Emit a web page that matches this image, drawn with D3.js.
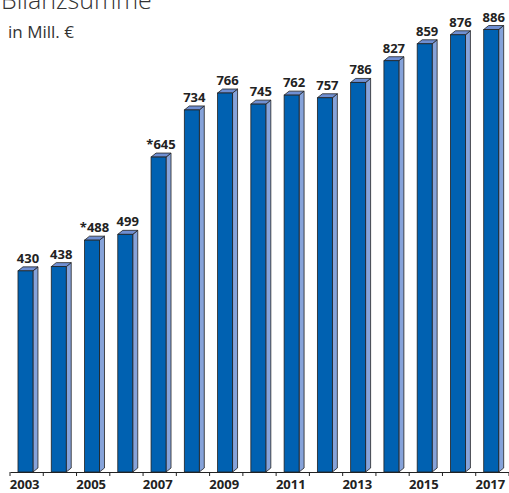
<!DOCTYPE html>
<html><head><meta charset="utf-8">
<script src="https://cdn.jsdelivr.net/npm/d3@7"></script>
<style>body{margin:0;background:#fff;} svg{display:block;}</style>
</head><body>
<script>
const years = ["2003","2004","2005","2006","2007","2008","2009","2010","2011","2012","2013","2014","2015","2016","2017"];
const values = [430,438,488,499,645,734,766,745,762,757,786,827,859,876,886];
const valueLabels = ["430","438","*488","499","*645","734","766","745","762","757","786","827","859","876","886"];
const tickLabels = ["2003","2005","2007","2009","2011","2013","2015","2017"];

const W = 509, H = 493;
const svg = d3.select("body").append("svg").attr("width", W).attr("height", H);

const x = d3.scaleBand().domain(years).range([10, 509]);
const y = d3.scaleLinear().domain([50, 886]).range([472, 29.5]);
const bw = x.bandwidth();
const fOff = bw * 0.24, fW = bw * 0.45, dx = 5, dy = 4;

svg.append("text").attr("x", 1).attr("y", 9)
  .attr("font-family", "Open Sans, sans-serif").attr("font-weight", 300)
  .attr("font-size", 25).attr("fill", "#333").text("Bilanzsumme");
svg.append("text").attr("x", 8).attr("y", 38)
  .attr("font-family", "Open Sans, sans-serif").attr("font-weight", 400)
  .attr("font-size", 17).attr("fill", "#333").text("in Mill. €");

const g = svg.append("g");
const bars = g.selectAll("g.bar").data(years).join("g").attr("class", "bar");
bars.each(function(d, i) {
  const s = d3.select(this);
  const x0 = x(d) + fOff, x1 = x0 + fW, yt = y(values[i]), yb = y.range()[0];
  s.append("path").attr("d", `M${x1},${yt}L${x1+dx},${yt-dy}L${x1+dx},${yb-dy}L${x1},${yb}Z`)
    .attr("fill", "#86a3da").attr("stroke", "#222").attr("stroke-width", 0.8);
  s.append("path").attr("d", `M${x0},${yt}L${x0+dx},${yt-dy}L${x1+dx},${yt-dy}L${x1},${yt}Z`)
    .attr("fill", "#6f8fd2").attr("stroke", "#222").attr("stroke-width", 0.8);
  s.append("rect").attr("x", x0).attr("y", yt).attr("width", fW).attr("height", yb - yt)
    .attr("fill", "#0061b1").attr("stroke", "#222").attr("stroke-width", 0.8);
  s.append("text").attr("x", x0 + (fW + dx) / 2).attr("y", yt - dy - 4)
    .attr("text-anchor", "middle").attr("font-family", "Open Sans, sans-serif")
    .attr("font-weight", 700).attr("font-size", 13).attr("fill", "#222").text(valueLabels[i]);
});

const axis = d3.axisBottom(x).tickSize(0).tickFormat(d => tickLabels.includes(d) ? d : "");
const ag = svg.append("g").attr("transform", "translate(0,472)").call(axis);
ag.select(".domain").attr("stroke", "#222").attr("stroke-width", 1);
ag.selectAll("text").attr("font-family", "Open Sans, sans-serif").attr("font-weight", 700)
  .attr("font-size", 13).attr("fill", "#222").attr("y", 4).attr("dy", "1.0em").attr("dx", -2);
ag.selectAll("line.bt").data(years.concat(["end"])).join("line").attr("class", "bt")
  .attr("x1", (d, i) => 10 + i * bw).attr("x2", (d, i) => 10 + i * bw)
  .attr("y1", 0).attr("y2", 4).attr("stroke", "#222").attr("stroke-width", 1);
</script>
</body></html>
